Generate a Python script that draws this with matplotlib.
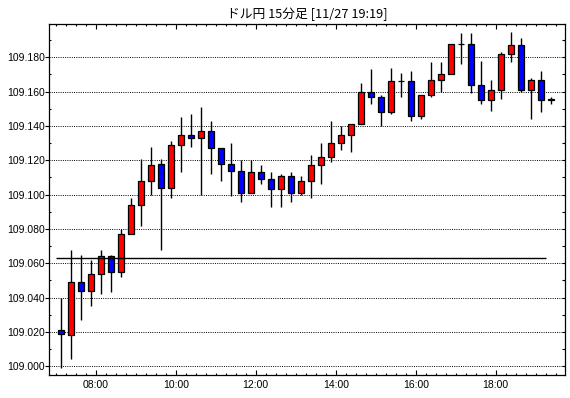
import numpy as np
import matplotlib
matplotlib.use('Agg')
import matplotlib.pyplot as plt
from matplotlib.ticker import MultipleLocator, FuncFormatter

# USD/JPY 15 minute bars, 07:00 .. 19:15
bar_minutes = 15
first_bar = 7 * 60   # 07:00 in minutes from midnight

opens = [109.021, 109.018, 109.049, 109.044, 109.054, 109.064, 109.055, 109.077,
         109.094, 109.108, 109.118, 109.104, 109.129, 109.135, 109.133, 109.137,
         109.127, 109.118, 109.114, 109.101, 109.113, 109.109, 109.103, 109.111,
         109.101, 109.108, 109.117, 109.122, 109.130, 109.135, 109.141, 109.160,
         109.157, 109.148, 109.166, 109.166, 109.146, 109.158, 109.167, 109.170,
         109.188, 109.188, 109.164, 109.155, 109.161, 109.182, 109.187, 109.161,
         109.167, 109.155]
highs = [109.040, 109.068, 109.065, 109.062, 109.068, 109.065, 109.080, 109.098,
         109.121, 109.128, 109.121, 109.131, 109.145, 109.147, 109.151, 109.143,
         109.127, 109.130, 109.120, 109.120, 109.117, 109.113, 109.112, 109.113,
         109.111, 109.123, 109.130, 109.143, 109.140, 109.141, 109.165, 109.173,
         109.158, 109.174, 109.171, 109.172, 109.158, 109.177, 109.177, 109.188,
         109.194, 109.194, 109.178, 109.167, 109.183, 109.195, 109.191, 109.168,
         109.172, 109.157]
lows = [108.999, 109.004, 109.027, 109.035, 109.042, 109.043, 109.052, 109.077,
        109.082, 109.100, 109.068, 109.098, 109.113, 109.128, 109.100, 109.112,
        109.108, 109.099, 109.096, 109.101, 109.106, 109.093, 109.093, 109.096,
        109.100, 109.098, 109.106, 109.119, 109.126, 109.125, 109.141, 109.153,
        109.140, 109.147, 109.157, 109.143, 109.144, 109.157, 109.160, 109.170,
        109.176, 109.159, 109.153, 109.149, 109.156, 109.177, 109.160, 109.144,
        109.148, 109.153]
closes = [109.019, 109.049, 109.044, 109.054, 109.064, 109.055, 109.077, 109.094,
          109.108, 109.117, 109.104, 109.129, 109.135, 109.133, 109.137, 109.127,
          109.118, 109.114, 109.101, 109.113, 109.109, 109.103, 109.111, 109.101,
          109.108, 109.117, 109.122, 109.130, 109.135, 109.141, 109.160, 109.157,
          109.148, 109.166, 109.166, 109.146, 109.158, 109.167, 109.170, 109.188,
          109.188, 109.164, 109.155, 109.161, 109.182, 109.187, 109.161, 109.167,
          109.155, 109.156]

ref_level = 109.063   # horizontal reference line
title = 'ドル円 15分足 [11/27 19:19]'


def hhmm(v, pos=None):
    v = int(round(v))
    return '%02d:%02d' % (v // 60, v % 60)


def draw_candles(ax, t, o, h, l, c, width):
    o, h, l, c = map(np.asarray, (o, h, l, c))
    centers = t + bar_minutes / 2.
    # wicks first, bodies on top
    ax.vlines(centers, l, h, color='black', linewidth=1.0, zorder=3)
    colors = np.where(c >= o, '#ff0000', '#0000ff')
    ax.bar(centers, np.abs(c - o), width=width, bottom=np.minimum(o, c),
           color=colors, edgecolor='black', linewidth=0.9, zorder=4)


if __name__ == '__main__':
    times = first_bar + bar_minutes * np.arange(len(opens))

    fig = plt.figure(figsize=(5.7, 3.98), dpi=100)
    ax = fig.add_axes([0.0865, 0.0585, 0.9053, 0.8812])

    draw_candles(ax, times, opens, highs, lows, closes, width=0.6 * bar_minutes)
    ax.hlines(ref_level, times[0], times[-1], color='black', linewidth=1.0, zorder=5)

    ax.set_xlim(410.4, 1184.4)
    ax.set_ylim(108.9951, 109.1994)

    tick_font = dict(family='Liberation Sans', size=7.5)

    # x axis: 2h labels, 15 min ticks, ticks inside on top and bottom
    ax.xaxis.set_major_locator(MultipleLocator(120))
    ax.xaxis.set_minor_locator(MultipleLocator(15))
    ax.xaxis.set_major_formatter(FuncFormatter(hhmm))
    ax.tick_params(axis='x', which='both', direction='in', top=True, width=0.8)
    ax.tick_params(axis='x', which='major', length=3.8, pad=4)
    ax.tick_params(axis='x', which='minor', length=1.5)

    # y axis: labels every 0.020, left majors outward, minors inward
    ax.yaxis.set_major_locator(MultipleLocator(0.02))
    ax.yaxis.set_minor_locator(MultipleLocator(0.01))
    ax.yaxis.set_major_formatter(FuncFormatter(lambda v, p: '%.3f' % v))
    ax.tick_params(axis='y', which='major', direction='out', length=2.9, pad=0.5,
                   width=0.8, right=False)
    ax.tick_params(axis='y', which='minor', direction='in', length=1.5,
                   width=0.8, right=False)
    for lab in ax.get_xticklabels() + ax.get_yticklabels():
        lab.set_fontfamily(tick_font['family'])
        lab.set_fontsize(tick_font['size'])

    # right side: short inward ticks every 0.010, no labels
    ax2 = ax.twinx()
    ax2.set_ylim(ax.get_ylim())
    ax2.yaxis.set_major_locator(MultipleLocator(0.01))
    ax2.tick_params(axis='y', which='both', direction='in', length=2.2, width=0.8,
                    labelright=False, right=True, left=False)
    for sp in ax2.spines.values():
        sp.set_visible(False)

    ax.grid(axis='y', which='major', color='black', linestyle=(0, (1, 1.3)),
            linewidth=0.7, zorder=1)
    ax.set_axisbelow(True)
    for sp in ax.spines.values():
        sp.set_linewidth(0.9)

    ax.set_title(title, fontsize=9.2, pad=4.5,
                 family=['Noto Sans CJK JP', 'DejaVu Sans'])

    fig.savefig('out.png', dpi=100)
